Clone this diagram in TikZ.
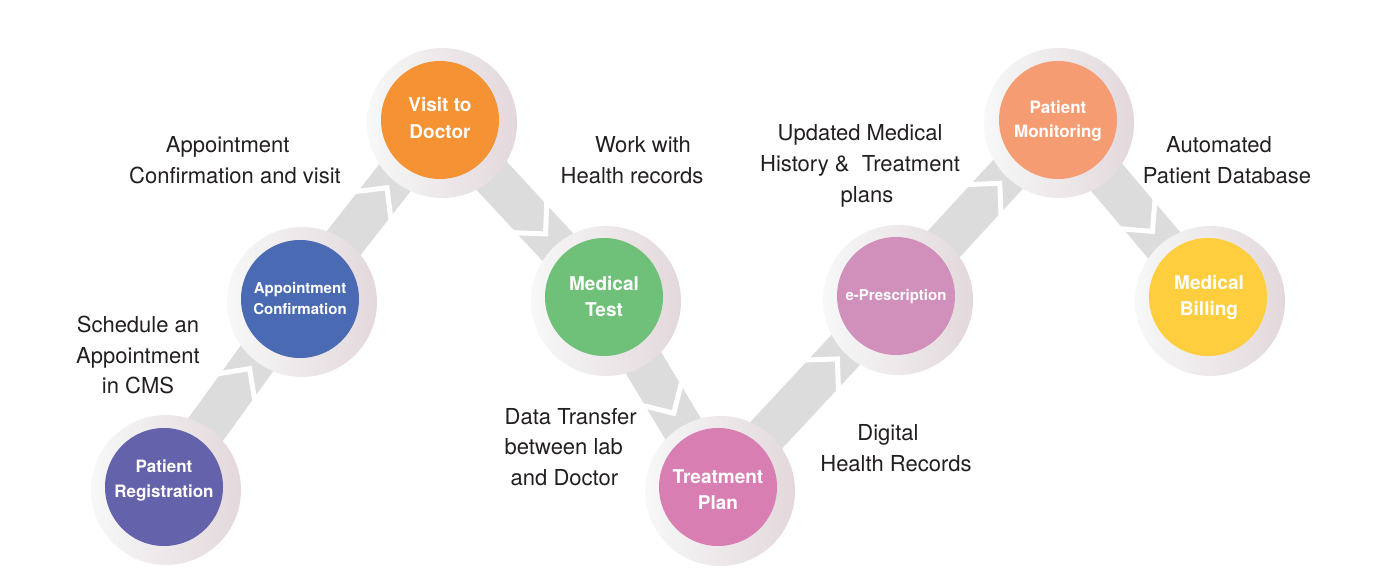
\documentclass[tikz,border=0pt]{standalone}
\usepackage{fontspec}
\setmainfont{TeX Gyre Heros}
\usetikzlibrary{calc}
\definecolor{ringL}{HTML}{F7F8F8}
\definecolor{ringR}{HTML}{E3D8DC}
\definecolor{bandgray}{HTML}{DCDCDC}
\definecolor{cReg}{HTML}{6462AA}
\definecolor{cApp}{HTML}{4A6AB4}
\definecolor{cVis}{HTML}{F49234}
\definecolor{cMed}{HTML}{6FC179}
\definecolor{cTrt}{HTML}{D87EB2}
\definecolor{cEpr}{HTML}{D18FBC}
\definecolor{cMon}{HTML}{F69C72}
\definecolor{cBil}{HTML}{FFCE3E}
\definecolor{txt}{HTML}{231F20}
\pgfdeclarelayer{bands}
\pgfsetlayers{bands,main}
\newcommand{\flowlink}[2]{%
  \draw[band] (#1.center) -- (#2.center);
  \coordinate (#1-#2-v) at ($(#2.center)!64.5pt!(#1.center)$);
  \draw[chev] ($(#1-#2-v)!29pt!135:(#2.center)$) -- (#1-#2-v) -- ($(#1-#2-v)!29pt!-135:(#2.center)$);
}
\begin{document}
\begin{tikzpicture}[x=0.75pt,y=-0.75pt,
  ring/.style={circle, minimum size=112.5pt, inner sep=0pt, left color=ringL, right color=ringR, draw=none},
  disc/.style={circle, minimum size=88.5pt, inner sep=0pt, fill=#1},
  dtext/.style={text=white, align=center, inner sep=0pt},
  band/.style={draw=bandgray, line width=31pt},
  chev/.style={draw=white, line width=3.75pt, line join=miter},
  lbl/.style={font=\fontsize{16.5}{23}\selectfont, align=center, text=txt}
]
\useasboundingbox (0,0) rectangle (1380,577);

% rings
\node[ring] (reg-ring) at (166,490) {};
\node[ring] (app-ring) at (302,302) {};
\node[ring] (vis-ring) at (442,123) {};
\node[ring] (med-ring) at (606,301) {};
\node[ring] (trt-ring) at (720,491) {};
\node[ring] (epr-ring) at (898,300) {};
\node[ring] (mon-ring) at (1059,123) {};
\node[ring] (bil-ring) at (1210,301) {};

% discs
\node[disc=cReg] (reg) at (164,487) {};
\node[disc=cApp] (app) at (300,299) {};
\node[disc=cVis] (vis) at (440,120) {};
\node[disc=cMed] (med) at (604,297) {};
\node[disc=cTrt] (trt) at (718,487) {};
\node[disc=cEpr] (epr) at (896,296) {};
\node[disc=cMon] (mon) at (1058,120) {};
\node[disc=cBil] (bil) at (1208,297) {};

% disc texts
\node[dtext, font=\bfseries\fontsize{12.75}{18.75}\selectfont] (reg-t) at (164,481) {Patient\\Registration};
\node[dtext, font=\bfseries\fontsize{11.25}{15.75}\selectfont] (app-t) at (300,299) {Appointment\\Confirmation};
\node[dtext, font=\bfseries\fontsize{14.25}{20}\selectfont] (vis-t) at (440,118) {Visit to\\Doctor};
\node[dtext, font=\bfseries\fontsize{14.25}{19.5}\selectfont] (med-t) at (604,297) {Medical\\Test};
\node[dtext, font=\bfseries\fontsize{14.25}{19.5}\selectfont] (trt-t) at (718,490) {Treatment\\Plan};
\node[dtext, font=\bfseries\fontsize{11.25}{15.75}\selectfont] (epr-t) at (896,297) {e-Prescription};
\node[dtext, font=\bfseries\fontsize{12.75}{18}\selectfont] (mon-t) at (1058,121) {Patient\\Monitoring};
\node[dtext, font=\bfseries\fontsize{14.25}{19.5}\selectfont] (bil-t) at (1209,297) {Medical\\Billing};

% connectors
\begin{pgfonlayer}{bands}
  \flowlink{reg}{app}
  \flowlink{app}{vis}
  \flowlink{vis}{med}
  \flowlink{med}{trt}
  \flowlink{trt}{epr}
  \flowlink{epr}{mon}
  \flowlink{mon}{bil}
\end{pgfonlayer}

% labels
\node[lbl] (l-sched) at (138,355) {Schedule an\\Appointment\\in CMS};
\node[lbl] (l-appt) at (235,160) {Appointment\hspace*{11pt}\\Confirmation and visit};
\node[lbl] (l-work) at (632,160) {\hspace*{16.5pt}Work with\\Health records};
\node[lbl, anchor=west, align=left] (l-data) at (500,447) {Data Transfer\\between lab\\\hspace*{4.5pt}and Doctor};
\node[lbl] (l-upd) at (860,166) {Updated Medical\\History \&\ \ Treatment\\\hspace*{10.5pt}plans};
\node[lbl] (l-dig) at (896,448) {Digital\hspace*{12pt}\\Health Records};
\node[lbl] (l-auto) at (1227,160) {Automated\hspace*{12pt}\\Patient Database};
\end{tikzpicture}
\end{document}
